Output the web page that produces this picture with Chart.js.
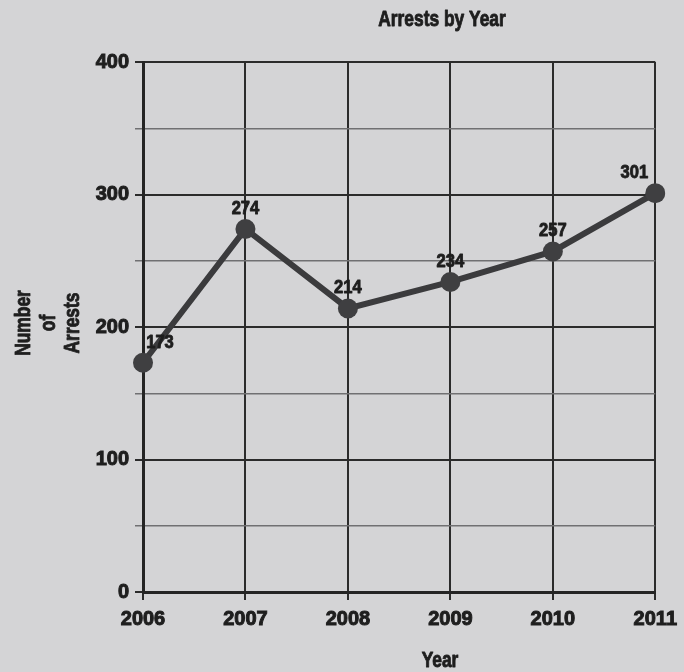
<!DOCTYPE html>
<html>
<head>
<meta charset="utf-8">
<script src="https://cdn.jsdelivr.net/npm/chart.js@4/dist/chart.umd.min.js"></script>
<style>
  html, body { margin: 0; padding: 0; background: #d4d4d6; }
  #wrap { width: 684px; height: 672px; }
</style>
</head>
<body>
<div id="wrap"><canvas id="chart" width="684" height="672"></canvas></div>
<script>
const years = ['2006', '2007', '2008', '2009', '2010', '2011'];
const arrests = [173, 274, 214, 234, 257, 301];
const yTicks = [0, 100, 200, 300, 400];

const chartTitle = 'Arrests by Year';
const xTitle = 'Year';
const yTitle = ['Number', 'of', 'Arrests'];

const FONT = "'Liberation Sans', Arial, sans-serif";
const INK = '#1e1e1e';

// condensed, heavy-looking text: squeeze horizontally and thicken with a stroke
function narrowText(ctx, text, x, y, squeeze) {
    ctx.save();
    ctx.translate(x, y);
    ctx.scale(squeeze, 1);
    ctx.fillText(text, 0, 0);
    ctx.strokeText(text, 0, 0);
    ctx.restore();
}

// titles and point labels, drawn on top of the chart
const textPlugin = {
    id: 'textPlugin',
    afterDatasetsDraw(chart) {
        const ctx = chart.ctx;
        ctx.save();
        ctx.fillStyle = INK;
        ctx.strokeStyle = INK;
        ctx.lineWidth = 0.9;
        ctx.lineJoin = 'round';
        ctx.font = 'bold 22px ' + FONT;
        ctx.textAlign = 'center';
        ctx.textBaseline = 'alphabetic';
        narrowText(ctx, chartTitle, 442, 26, 0.79);
        narrowText(ctx, xTitle, 440, 667, 0.79);

        ctx.save();
        ctx.translate(0, 323);
        ctx.rotate(-Math.PI / 2);
        yTitle.forEach((line, i) => {
            narrowText(ctx, line, 0, 30 + i * 24.5, 0.79);
        });
        ctx.restore();

        // value labels above each point
        const meta = chart.getDatasetMeta(0);
        ctx.font = 'bold 18px ' + FONT;
        ctx.textBaseline = 'middle';
        meta.data.forEach((pt, i) => {
            let dx = 0;
            if (i === 0) dx = 17;
            if (i === meta.data.length - 1) dx = -21;
            narrowText(ctx, String(arrests[i]), pt.x + dx, pt.y - 20, 0.92);
        });
        ctx.restore();
    }
};

new Chart(document.getElementById('chart'), {
    type: 'line',
    data: {
        labels: years,
        datasets: [{
            data: arrests,
            borderColor: '#3b3b3d',
            backgroundColor: '#3b3b3d',
            borderWidth: 6,
            pointRadius: 10,
            pointHoverRadius: 10,
            pointBackgroundColor: '#3f3f41',
            pointBorderWidth: 0,
            tension: 0,
            fill: false
        }]
    },
    options: {
        responsive: false,
        animation: false,
        events: [],
        layout: {
            padding: { top: 62, right: 19, bottom: 0, left: 0 }
        },
        scales: {
            x: {
                offset: false,
                afterFit: s => { s.height = 80; },
                border: { color: '#242424', width: 3 },
                grid: {
                    color: '#2b2b2b',
                    lineWidth: 2,
                    tickLength: 8,
                    tickColor: '#2b2b2b'
                },
                ticks: {
                    color: INK,
                    textStrokeColor: INK,
                    textStrokeWidth: 1,
                    padding: 7,
                    maxRotation: 0,
                    autoSkip: false,
                    font: { family: FONT, size: 20, weight: 'bold' }
                }
            },
            y: {
                min: 0,
                max: 400,
                afterFit: s => { s.width = 143; },
                border: { color: '#242424', width: 3 },
                grid: {
                    color: c => (c.tick && c.tick.value % 100 === 0) ? '#2b2b2b' : '#707072',
                    lineWidth: c => (c.tick && c.tick.value % 100 === 0) ? 2 : 1.5,
                    tickLength: 8,
                    tickColor: c => (c.tick && c.tick.value % 100 === 0) ? '#2b2b2b' : '#707072'
                },
                ticks: {
                    stepSize: 50,
                    color: INK,
                    textStrokeColor: INK,
                    textStrokeWidth: 1,
                    padding: 6,
                    font: { family: FONT, size: 20, weight: 'bold' },
                    callback: v => yTicks.includes(v) ? String(v) : ''
                }
            }
        },
        plugins: {
            legend: { display: false },
            title: { display: false },
            tooltip: { enabled: false }
        }
    },
    plugins: [textPlugin]
});
</script>
</body>
</html>
